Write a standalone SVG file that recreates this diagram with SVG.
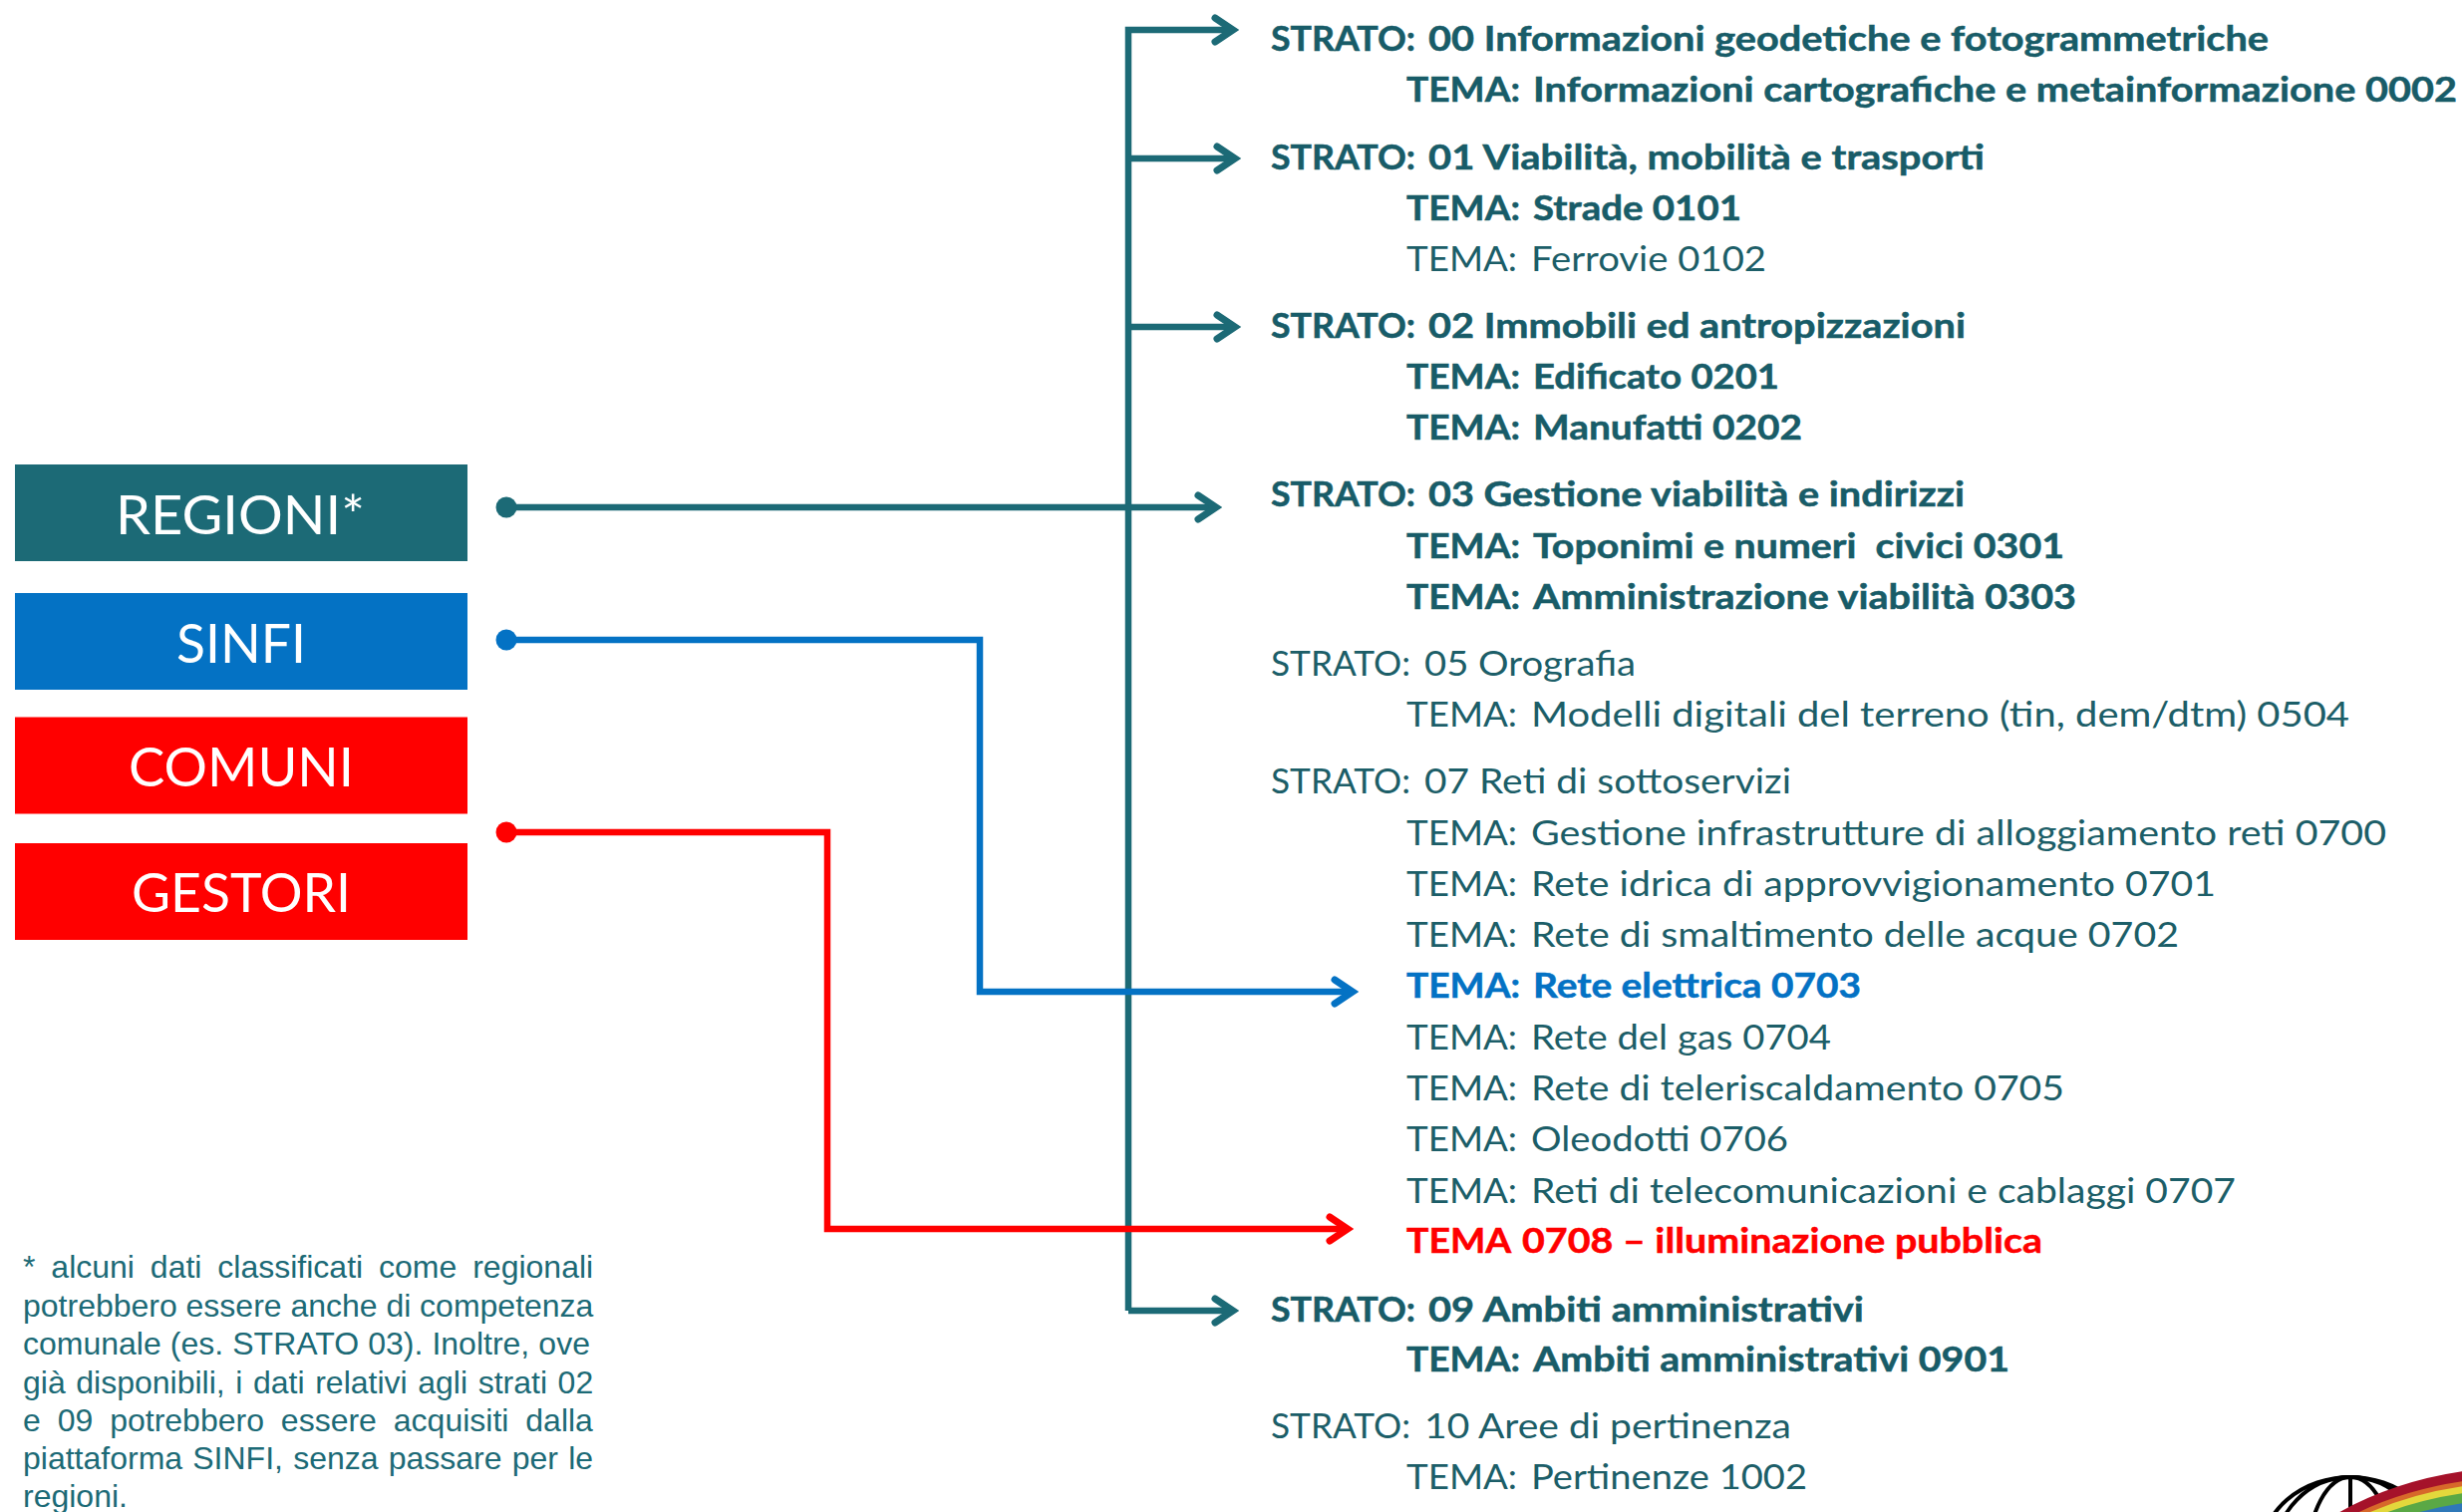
<svg xmlns="http://www.w3.org/2000/svg" width="2470" height="1517" viewBox="0 0 2470 1517">
<style>
text{font-family:"Lato","Carlito","Open Sans",sans-serif}
.t{font-size:34.5px;fill:#1c5e68}
.b{font-weight:700;fill:#185c68;stroke:#185c68;stroke-width:.5}
.blue{fill:#0472c4;stroke:#0472c4}
.red{fill:#ff0000;stroke:#ff0000}
.box{font-size:54px;fill:#fff;text-anchor:middle}
.note{font-family:"Liberation Sans",Arial,sans-serif;font-size:32px;fill:#1c6a76}
.c{fill:none;stroke-width:6.5;stroke-linejoin:miter}
.teal{stroke:#1c6a76}.cb{stroke:#0472c4}.cr{stroke:#ff0000}
.h{fill:none;stroke-width:7;stroke-linecap:round}
</style>
<defs>
<marker id="at" markerUnits="userSpaceOnUse" markerWidth="40" markerHeight="40" refX="24" refY="20" orient="auto" overflow="visible"><path class="h" d="M6 8L24 20L6 32" stroke="#1c6a76"/></marker>
<marker id="ab" markerUnits="userSpaceOnUse" markerWidth="40" markerHeight="40" refX="24" refY="20" orient="auto" overflow="visible"><path class="h" d="M6 8L24 20L6 32" stroke="#0472c4"/></marker>
<marker id="ar" markerUnits="userSpaceOnUse" markerWidth="40" markerHeight="40" refX="24" refY="20" orient="auto" overflow="visible"><path class="h" d="M6 8L24 20L6 32" stroke="#ff0000"/></marker>
<clipPath id="logoclip"><rect x="2270" y="1470" width="200" height="47"/></clipPath>
</defs>
<rect width="2470" height="1517" fill="#fff"/>

<g id="connectors">
<path class="c teal" d="M1132 1315V30H1237" marker-end="url(#at)"/>
<path class="c teal" d="M1132 159H1239" marker-end="url(#at)"/>
<path class="c teal" d="M1132 328H1239" marker-end="url(#at)"/>
<path class="c teal" d="M1132 1315H1237" marker-end="url(#at)"/>
<path class="c teal" d="M508 509H1220" marker-end="url(#at)"/>
<path class="c cb" d="M508 642H983V995H1357" marker-end="url(#ab)"/>
<path class="c cr" d="M508 835H830V1233H1352" marker-end="url(#ar)"/>
<circle cx="508" cy="509" r="10.5" fill="#1c6a76"/>
<circle cx="508" cy="642" r="10.5" fill="#0472c4"/>
<circle cx="508" cy="835" r="10.5" fill="#ff0000"/>
</g>

<g id="regioni"><rect x="15" y="466" width="454" height="97" fill="#1c6a76"/><text class="box" x="241" y="536" textLength="250" lengthAdjust="spacingAndGlyphs">REGIONI*</text></g>
<g id="sinfi"><rect x="15" y="595" width="454" height="97" fill="#0472c4"/><text class="box" x="242" y="665" textLength="130" lengthAdjust="spacingAndGlyphs">SINFI</text></g>
<g id="comuni"><rect x="15" y="719.500" width="454" height="97" fill="#ff0000"/><text class="box" x="242" y="789" textLength="226" lengthAdjust="spacingAndGlyphs">COMUNI</text></g>
<g id="gestori"><rect x="15" y="846" width="454" height="97" fill="#ff0000"/><text class="box" x="242" y="915" textLength="220" lengthAdjust="spacingAndGlyphs">GESTORI</text></g>

<g id="strato-00">
<text class="t b" y="51"><tspan x="1275" textLength="145" lengthAdjust="spacingAndGlyphs">STRATO:</tspan> <tspan x="1433" textLength="843" lengthAdjust="spacingAndGlyphs">00 Informazioni geodetiche e fotogrammetriche</tspan></text>
<text class="t b" y="102"><tspan x="1411" textLength="114" lengthAdjust="spacingAndGlyphs">TEMA:</tspan> <tspan x="1538" textLength="927" lengthAdjust="spacingAndGlyphs">Informazioni cartografiche e metainformazione 0002</tspan></text>
</g>
<g id="strato-01">
<text class="t b" y="170"><tspan x="1275" textLength="145" lengthAdjust="spacingAndGlyphs">STRATO:</tspan> <tspan x="1433" textLength="558" lengthAdjust="spacingAndGlyphs">01 Viabilità, mobilità e trasporti</tspan></text>
<text class="t b" y="221"><tspan x="1411" textLength="114" lengthAdjust="spacingAndGlyphs">TEMA:</tspan> <tspan x="1538" textLength="209" lengthAdjust="spacingAndGlyphs">Strade 0101</tspan></text>
<text class="t" y="272"><tspan x="1411" textLength="111" lengthAdjust="spacingAndGlyphs">TEMA:</tspan> <tspan x="1536" textLength="236" lengthAdjust="spacingAndGlyphs">Ferrovie 0102</tspan></text>
</g>
<g id="strato-02">
<text class="t b" y="339"><tspan x="1275" textLength="145" lengthAdjust="spacingAndGlyphs">STRATO:</tspan> <tspan x="1433" textLength="539" lengthAdjust="spacingAndGlyphs">02 Immobili ed antropizzazioni</tspan></text>
<text class="t b" y="390"><tspan x="1411" textLength="114" lengthAdjust="spacingAndGlyphs">TEMA:</tspan> <tspan x="1538" textLength="247" lengthAdjust="spacingAndGlyphs">Edificato 0201</tspan></text>
<text class="t b" y="441"><tspan x="1411" textLength="114" lengthAdjust="spacingAndGlyphs">TEMA:</tspan> <tspan x="1538" textLength="270" lengthAdjust="spacingAndGlyphs">Manufatti 0202</tspan></text>
</g>
<g id="strato-03">
<text class="t b" y="508"><tspan x="1275" textLength="145" lengthAdjust="spacingAndGlyphs">STRATO:</tspan> <tspan x="1433" textLength="538" lengthAdjust="spacingAndGlyphs">03 Gestione viabilità e indirizzi</tspan></text>
<text class="t b" y="560"><tspan x="1411" textLength="114" lengthAdjust="spacingAndGlyphs">TEMA:</tspan> <tspan x="1538" textLength="533" lengthAdjust="spacingAndGlyphs" style="white-space:pre">Toponimi e numeri  civici 0301</tspan></text>
<text class="t b" y="611"><tspan x="1411" textLength="114" lengthAdjust="spacingAndGlyphs">TEMA:</tspan> <tspan x="1538" textLength="545" lengthAdjust="spacingAndGlyphs">Amministrazione viabilità 0303</tspan></text>
</g>
<g id="strato-05">
<text class="t" y="678"><tspan x="1275" textLength="140" lengthAdjust="spacingAndGlyphs">STRATO:</tspan> <tspan x="1429" textLength="212" lengthAdjust="spacingAndGlyphs">05 Orografia</tspan></text>
<text class="t" y="729"><tspan x="1411" textLength="111" lengthAdjust="spacingAndGlyphs">TEMA:</tspan> <tspan x="1536" textLength="821" lengthAdjust="spacingAndGlyphs">Modelli digitali del terreno (tin, dem/dtm) 0504</tspan></text>
</g>
<g id="strato-07">
<text class="t" y="796"><tspan x="1275" textLength="140" lengthAdjust="spacingAndGlyphs">STRATO:</tspan> <tspan x="1429" textLength="368" lengthAdjust="spacingAndGlyphs">07 Reti di sottoservizi</tspan></text>
<text class="t" y="848"><tspan x="1411" textLength="111" lengthAdjust="spacingAndGlyphs">TEMA:</tspan> <tspan x="1536" textLength="858" lengthAdjust="spacingAndGlyphs">Gestione infrastrutture di alloggiamento reti 0700</tspan></text>
<text class="t" y="899"><tspan x="1411" textLength="111" lengthAdjust="spacingAndGlyphs">TEMA:</tspan> <tspan x="1536" textLength="687" lengthAdjust="spacingAndGlyphs">Rete idrica di approvvigionamento 0701</tspan></text>
<text class="t" y="950"><tspan x="1411" textLength="111" lengthAdjust="spacingAndGlyphs">TEMA:</tspan> <tspan x="1536" textLength="650" lengthAdjust="spacingAndGlyphs">Rete di smaltimento delle acque 0702</tspan></text>
<text class="t b blue" y="1001"><tspan x="1411" textLength="114" lengthAdjust="spacingAndGlyphs">TEMA:</tspan> <tspan x="1538" textLength="329" lengthAdjust="spacingAndGlyphs">Rete elettrica 0703</tspan></text>
<text class="t" y="1053"><tspan x="1411" textLength="111" lengthAdjust="spacingAndGlyphs">TEMA:</tspan> <tspan x="1536" textLength="301" lengthAdjust="spacingAndGlyphs">Rete del gas 0704</tspan></text>
<text class="t" y="1104"><tspan x="1411" textLength="111" lengthAdjust="spacingAndGlyphs">TEMA:</tspan> <tspan x="1536" textLength="535" lengthAdjust="spacingAndGlyphs">Rete di teleriscaldamento 0705</tspan></text>
<text class="t" y="1155"><tspan x="1411" textLength="111" lengthAdjust="spacingAndGlyphs">TEMA:</tspan> <tspan x="1536" textLength="258" lengthAdjust="spacingAndGlyphs">Oleodotti 0706</tspan></text>
<text class="t" y="1207"><tspan x="1411" textLength="111" lengthAdjust="spacingAndGlyphs">TEMA:</tspan> <tspan x="1536" textLength="707" lengthAdjust="spacingAndGlyphs">Reti di telecomunicazioni e cablaggi 0707</tspan></text>
<text class="t b red" y="1257"><tspan x="1411" textLength="104" lengthAdjust="spacingAndGlyphs">TEMA</tspan> <tspan x="1527" textLength="522" lengthAdjust="spacingAndGlyphs">0708 – illuminazione pubblica</tspan></text>
</g>
<g id="strato-09">
<text class="t b" y="1326"><tspan x="1275" textLength="145" lengthAdjust="spacingAndGlyphs">STRATO:</tspan> <tspan x="1433" textLength="437" lengthAdjust="spacingAndGlyphs">09 Ambiti amministrativi</tspan></text>
<text class="t b" y="1376"><tspan x="1411" textLength="114" lengthAdjust="spacingAndGlyphs">TEMA:</tspan> <tspan x="1538" textLength="478" lengthAdjust="spacingAndGlyphs">Ambiti amministrativi 0901</tspan></text>
</g>
<g id="strato-10">
<text class="t" y="1443"><tspan x="1275" textLength="140" lengthAdjust="spacingAndGlyphs">STRATO:</tspan> <tspan x="1429" textLength="368" lengthAdjust="spacingAndGlyphs">10 Aree di pertinenza</tspan></text>
<text class="t" y="1494"><tspan x="1411" textLength="111" lengthAdjust="spacingAndGlyphs">TEMA:</tspan> <tspan x="1536" textLength="277" lengthAdjust="spacingAndGlyphs">Pertinenze 1002</tspan></text>
</g>

<g id="nota">
<text class="note" x="23" y="1282" word-spacing="7">* alcuni dati classificati come regionali</text>
<text class="note" x="23" y="1321" word-spacing="-0.1">potrebbero essere anche di competenza</text>
<text class="note" x="23" y="1359" word-spacing="0.2">comunale (es. STRATO 03). Inoltre, ove</text>
<text class="note" x="23" y="1398" word-spacing="1.7">già disponibili, i dati relativi agli strati 02</text>
<text class="note" x="23" y="1436" word-spacing="8">e 09 potrebbero essere acquisiti dalla</text>
<text class="note" x="23" y="1474" word-spacing="1.3">piattaforma SINFI, senza passare per le</text>
<text class="note" x="23" y="1512">regioni.</text>
</g>

<g id="logo" clip-path="url(#logoclip)">
<g fill="none" stroke="#000" stroke-width="4">
<ellipse cx="2358" cy="1560" rx="90" ry="78"/>
<ellipse cx="2358" cy="1560" rx="76" ry="78"/>
<ellipse cx="2358" cy="1560" rx="42" ry="78"/>
<path d="M2358 1482V1517"/>
</g>
<path d="M2337 1523Q2400 1485 2480 1475V1560H2337Z" fill="#a5122a"/>
<path d="M2337 1533Q2400 1495 2480 1485V1560H2337Z" fill="#d7682a"/>
<path d="M2337 1538Q2400 1500 2480 1490V1560H2337Z" fill="#e3d83c"/>
<path d="M2337 1545Q2400 1507 2480 1497V1560H2337Z" fill="#5aa845"/>
<path d="M2337 1555Q2400 1517 2480 1507V1560H2337Z" fill="#2f78b8"/>
</g>
</svg>
